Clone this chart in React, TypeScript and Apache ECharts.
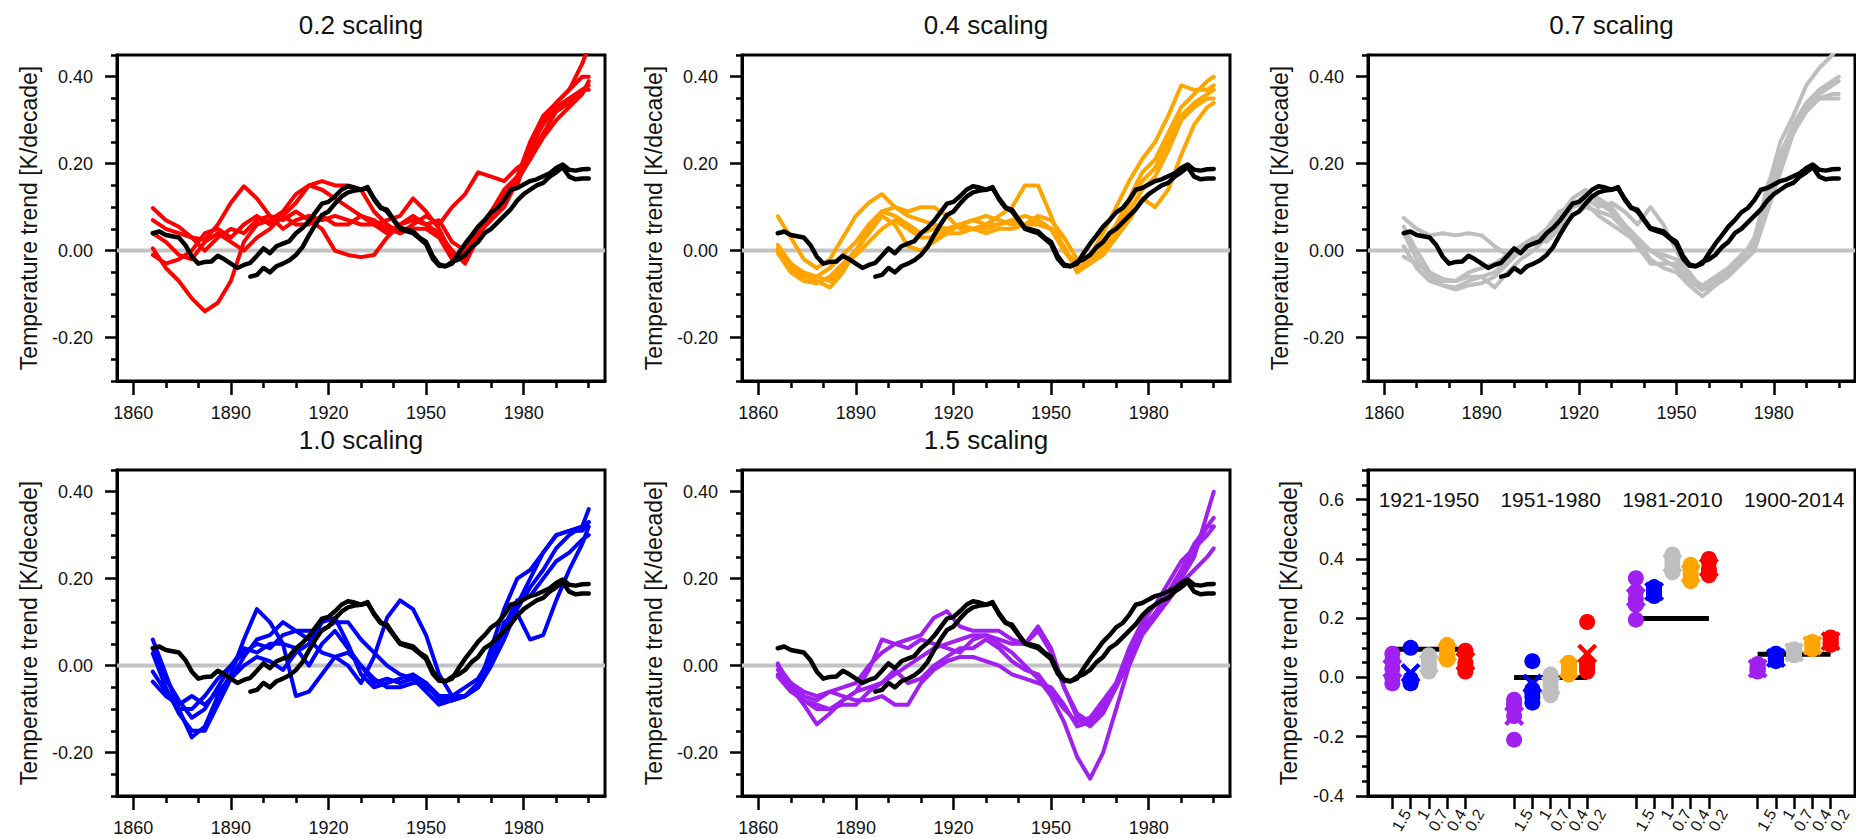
import React, { useEffect, useRef } from "react";
import * as echarts from "echarts";

// ---------- time axis of the running trends ----------
const memberYears = [1866, 1870, 1874, 1878, 1882, 1886, 1890, 1894, 1898, 1902, 1906, 1910, 1914, 1918, 1922, 1926, 1930, 1934, 1938, 1942, 1946, 1950, 1954, 1958, 1962, 1966, 1970, 1974, 1978, 1982, 1986, 1990, 1994, 1998, 2000];

// ---------- observations (black) ----------
const obsYearsA = [1866, 1868, 1870, 1872, 1874, 1876, 1878, 1880, 1882, 1884, 1886, 1888, 1890, 1892, 1894, 1896, 1898, 1900, 1902, 1904, 1906, 1908, 1910, 1912, 1914, 1916, 1918, 1920, 1922, 1924, 1926, 1928, 1930, 1932, 1934, 1936, 1938, 1940, 1942, 1944, 1946, 1948, 1950, 1952, 1954, 1956, 1958, 1960, 1962, 1964, 1966, 1968, 1970, 1972, 1974, 1976, 1978, 1980, 1982, 1984, 1986, 1988, 1990, 1992, 1994, 1996, 1998, 2000];
const obsA = [0.040, 0.044, 0.036, 0.033, 0.030, 0.013, -0.014, -0.030, -0.026, -0.025,
  -0.012, -0.020, -0.030, -0.040, -0.033, -0.028, -0.012, 0.005, -0.006, 0.010,
  0.016, 0.022, 0.040, 0.052, 0.068, 0.088, 0.108, 0.112, 0.125, 0.140,
  0.148, 0.145, 0.140, 0.146, 0.118, 0.098, 0.094, 0.072, 0.052, 0.048,
  0.044, 0.030, 0.020, -0.012, -0.032, -0.036, -0.030, -0.006, 0.016, 0.035,
  0.055, 0.070, 0.088, 0.098, 0.116, 0.140, 0.144, 0.152, 0.160, 0.164,
  0.171, 0.178, 0.190, 0.198, 0.186, 0.184, 0.187, 0.188];
const obsYearsB = [1896, 1898, 1900, 1902, 1904, 1906, 1908, 1910, 1912, 1914, 1916, 1918, 1920, 1922, 1924, 1926, 1928, 1930, 1932, 1934, 1936, 1938, 1940, 1942, 1944, 1946, 1948, 1950, 1952, 1954, 1956, 1958, 1960, 1962, 1964, 1966, 1968, 1970, 1972, 1974, 1976, 1978, 1980, 1982, 1984, 1986, 1988, 1990, 1992, 1994, 1996, 1998, 2000];
const obsB = [-0.060, -0.056, -0.040, -0.050, -0.036, -0.030, -0.022, -0.010, 0.008, 0.035,
  0.060, 0.082, 0.090, 0.108, 0.124, 0.134, 0.138, 0.140, 0.144, 0.120,
  0.100, 0.090, 0.070, 0.050, 0.045, 0.040, 0.028, 0.015, -0.018, -0.035,
  -0.036, -0.026, -0.020, -0.010, 0.008, 0.020, 0.040, 0.050, 0.065, 0.080,
  0.095, 0.115, 0.130, 0.140, 0.150, 0.156, 0.170, 0.180, 0.192, 0.170,
  0.164, 0.166, 0.166];

// ---------- 0.2 scaling (red) ----------
const red1 = [0.005, -0.04, -0.07, -0.11, -0.14, -0.12, -0.07, 0.02, 0.06, 0.07, 0.09, 0.13, 0.15, 0.16, 0.15, 0.15, 0.14, 0.09, 0.06, 0.04, 0.05, 0.05, 0.03, -0.02, 0.0, 0.05, 0.09, 0.13, 0.17, 0.25, 0.31, 0.34, 0.37, 0.40, 0.40];
const red2 = [0.07, 0.05, 0.04, 0.03, 0.025, 0.06, 0.11, 0.148, 0.12, 0.08, 0.05, 0.07, 0.08, 0.07, 0.08, 0.07, 0.06, 0.06, 0.07, 0.08, 0.12, 0.09, 0.05, -0.01, -0.02, 0.04, 0.09, 0.14, 0.17, 0.22, 0.30, 0.34, 0.37, 0.43, 0.47];
const red3 = [0.098, 0.07, 0.055, 0.03, 0.0, 0.03, 0.05, 0.04, 0.07, 0.08, 0.07, 0.09, 0.07, 0.05, 0.0, -0.01, -0.015, -0.01, 0.03, 0.06, 0.07, 0.06, 0.04, 0.0, -0.03, 0.03, 0.08, 0.12, 0.15, 0.24, 0.29, 0.33, 0.35, 0.37, 0.38];
const red4 = [0.04, 0.02, -0.01, -0.02, 0.02, 0.04, 0.02, 0.0, 0.03, 0.05, 0.08, 0.11, 0.15, 0.14, 0.12, 0.10, 0.08, 0.07, 0.05, 0.04, 0.06, 0.08, 0.06, 0.10, 0.13, 0.18, 0.17, 0.16, 0.19, 0.21, 0.27, 0.32, 0.34, 0.37, 0.37];
const red5 = [-0.01, -0.03, -0.02, 0.0, 0.04, 0.05, 0.03, 0.06, 0.08, 0.06, 0.08, 0.06, 0.06, 0.08, 0.06, 0.06, 0.08, 0.06, 0.04, 0.06, 0.08, 0.06, 0.07, 0.02, 0.0, 0.04, 0.07, 0.10, 0.16, 0.21, 0.26, 0.30, 0.33, 0.36, 0.39];

// ---------- 0.4 scaling (orange) ----------
const orange1 = [0.079, 0.03, -0.02, -0.04, -0.02, 0.03, 0.08, 0.11, 0.13, 0.10, 0.08, 0.07, 0.06, 0.05, 0.06, 0.07, 0.08, 0.07, 0.06, 0.06, 0.07, 0.05, 0.0, -0.03, -0.01, 0.04, 0.10, 0.16, 0.21, 0.25, 0.31, 0.38, 0.37, 0.37, 0.38];
const orange2 = [0.013, -0.03, -0.06, -0.07, -0.085, -0.05, 0.0, 0.05, 0.09, 0.08, 0.06, 0.04, 0.05, 0.04, 0.04, 0.05, 0.06, 0.08, 0.10, 0.15, 0.15, 0.08, 0.0, -0.04, -0.03, 0.02, 0.06, 0.12, 0.18, 0.21, 0.27, 0.33, 0.36, 0.39, 0.40];
const orange3 = [0.005, -0.04, -0.06, -0.06, -0.04, -0.01, 0.02, 0.06, 0.09, 0.10, 0.09, 0.10, 0.10, 0.08, 0.05, 0.05, 0.05, 0.06, 0.07, 0.06, 0.06, 0.05, 0.0, -0.04, -0.02, 0.01, 0.05, 0.11, 0.16, 0.19, 0.25, 0.31, 0.34, 0.36, 0.37];
const orange4 = [-0.006, -0.05, -0.07, -0.075, -0.06, -0.03, 0.0, 0.04, 0.08, 0.06, 0.01, 0.0, 0.02, 0.04, 0.06, 0.07, 0.06, 0.06, 0.07, 0.08, 0.07, 0.05, 0.01, -0.05, -0.03, 0.0, 0.04, 0.09, 0.14, 0.17, 0.23, 0.30, 0.33, 0.35, 0.35];
const orange5 = [0.0, -0.03, -0.05, -0.06, -0.07, -0.04, -0.01, 0.02, 0.05, 0.07, 0.05, 0.03, 0.03, 0.05, 0.06, 0.05, 0.04, 0.05, 0.05, 0.06, 0.08, 0.07, 0.03, -0.02, -0.03, -0.01, 0.03, 0.07, 0.12, 0.10, 0.14, 0.22, 0.29, 0.33, 0.34];

// ---------- 0.7 scaling (gray) ----------
const gray1 = [0.075, 0.05, 0.035, 0.04, 0.035, 0.04, 0.035, 0.01, -0.01, 0.0, 0.02, 0.04, 0.08, 0.12, 0.14, 0.11, 0.09, 0.06, 0.03, 0.0, -0.02, -0.04, -0.07, -0.08, -0.06, -0.04, -0.02, 0.03, 0.14, 0.25, 0.31, 0.38, 0.42, 0.45, 0.47];
const gray2 = [0.04, -0.02, -0.06, -0.08, -0.085, -0.07, -0.06, -0.085, -0.05, -0.02, 0.0, 0.03, 0.08, 0.11, 0.12, 0.10, 0.11, 0.09, 0.06, 0.10, 0.06, 0.0, -0.06, -0.08, -0.07, -0.05, -0.02, 0.02, 0.15, 0.22, 0.28, 0.33, 0.35, 0.36, 0.36];
const gray3 = [0.01, -0.04, -0.07, -0.08, -0.09, -0.08, -0.075, -0.06, -0.03, 0.0, 0.02, 0.03, 0.06, 0.10, 0.13, 0.12, 0.10, 0.06, 0.02, -0.02, -0.04, -0.05, -0.08, -0.105, -0.08, -0.05, -0.03, 0.0, 0.10, 0.20, 0.27, 0.33, 0.36, 0.38, 0.39];
const gray4 = [-0.014, -0.03, -0.05, -0.065, -0.07, -0.06, -0.06, -0.05, -0.02, 0.01, 0.03, 0.02, 0.05, 0.08, 0.10, 0.09, 0.08, 0.05, 0.01, -0.03, -0.03, -0.03, -0.07, -0.09, -0.07, -0.04, -0.01, 0.01, 0.12, 0.22, 0.29, 0.34, 0.37, 0.39, 0.40];
const gray5 = [0.055, 0.0, -0.05, -0.07, -0.07, -0.05, -0.04, -0.03, -0.01, 0.01, 0.025, 0.05, 0.09, 0.10, 0.11, 0.08, 0.06, 0.04, 0.02, 0.0, -0.01, -0.02, -0.05, -0.09, -0.08, -0.06, -0.03, 0.0, 0.09, 0.18, 0.27, 0.32, 0.35, 0.35, 0.35];

// ---------- 1.0 scaling (blue) ----------
const blue1 = [0.06, -0.02, -0.10, -0.165, -0.14, -0.07, -0.02, 0.06, 0.13, 0.10, 0.05, -0.07, -0.06, -0.02, 0.02, 0.03, 0.0, -0.04, -0.03, -0.04, -0.03, -0.05, -0.07, -0.07, -0.05, -0.03, 0.02, 0.08, 0.14, 0.20, 0.26, 0.30, 0.31, 0.31, 0.33];
const blue2 = [0.04, -0.03, -0.08, -0.12, -0.10, -0.05, 0.0, 0.03, 0.05, 0.04, 0.07, 0.08, 0.06, 0.03, 0.02, 0.0, -0.04, 0.02, 0.11, 0.15, 0.13, 0.07, -0.02, -0.07, -0.07, -0.05, 0.04, 0.13, 0.20, 0.22, 0.26, 0.30, 0.31, 0.32, 0.36];
const blue3 = [0.028, -0.05, -0.11, -0.15, -0.15, -0.09, -0.03, 0.02, 0.06, 0.07, 0.10, 0.08, 0.08, 0.08, 0.10, 0.10, 0.06, 0.03, 0.0, -0.02, -0.03, -0.06, -0.09, -0.08, -0.07, -0.05, 0.0, 0.06, 0.13, 0.18, 0.22, 0.27, 0.30, 0.32, 0.33];
const blue4 = [-0.014, -0.06, -0.10, -0.10, -0.07, -0.03, 0.0, 0.04, 0.03, 0.05, 0.05, 0.04, 0.0, 0.05, 0.08, 0.04, 0.0, -0.03, -0.05, -0.05, -0.04, -0.04, -0.08, -0.08, -0.07, -0.05, 0.0, 0.10, 0.12, 0.06, 0.07, 0.15, 0.22, 0.28, 0.32];
const blue5 = [-0.037, -0.07, -0.09, -0.07, -0.09, -0.06, -0.03, 0.0, 0.02, 0.01, -0.01, 0.03, 0.05, 0.10, 0.11, 0.05, -0.02, -0.05, -0.04, -0.03, -0.02, -0.04, -0.07, -0.08, -0.07, -0.04, 0.02, 0.09, 0.15, 0.16, 0.20, 0.24, 0.26, 0.29, 0.30];

// ---------- 1.5 scaling (purple) ----------
const purple1 = [-0.02, -0.05, -0.08, -0.10, -0.10, -0.08, -0.06, -0.05, -0.04, -0.02, 0.0, 0.02, 0.04, 0.05, 0.06, 0.07, 0.07, 0.05, 0.03, 0.0, -0.03, -0.07, -0.13, -0.21, -0.26, -0.20, -0.10, 0.0, 0.07, 0.11, 0.15, 0.20, 0.25, 0.35, 0.40];
const purple2 = [0.0, -0.04, -0.07, -0.08, -0.06, -0.05, -0.04, 0.0, 0.03, 0.05, 0.06, 0.07, 0.11, 0.125, 0.09, 0.08, 0.08, 0.08, 0.06, 0.05, 0.09, 0.04, -0.05, -0.11, -0.13, -0.10, -0.05, 0.02, 0.08, 0.12, 0.16, 0.21, 0.26, 0.32, 0.34];
const purple3 = [0.005, -0.05, -0.09, -0.135, -0.11, -0.08, -0.06, -0.01, 0.06, 0.05, 0.04, 0.06, 0.05, 0.04, 0.03, 0.06, 0.07, 0.06, 0.05, 0.05, 0.08, 0.03, -0.05, -0.12, -0.14, -0.11, -0.05, 0.01, 0.08, 0.12, 0.17, 0.22, 0.28, 0.32, 0.32];
const purple4 = [-0.01, -0.04, -0.06, -0.07, -0.06, -0.07, -0.08, -0.08, -0.07, -0.09, -0.09, -0.04, -0.01, 0.01, 0.02, 0.02, 0.01, 0.0, -0.02, -0.03, -0.04, -0.05, -0.09, -0.14, -0.13, -0.09, -0.04, 0.03, 0.09, 0.12, 0.15, 0.19, 0.22, 0.25, 0.27];
const purple5 = [-0.025, -0.06, -0.08, -0.09, -0.10, -0.09, -0.09, -0.06, -0.04, -0.01, -0.04, -0.03, 0.0, 0.02, 0.04, 0.04, 0.06, 0.04, 0.01, -0.01, -0.02, -0.06, -0.10, -0.13, -0.12, -0.08, -0.04, 0.04, 0.10, 0.14, 0.19, 0.24, 0.27, 0.30, 0.32];

// ---------- period trends (bottom-right panel) ----------
const periods = ["1921-1950", "1951-1980", "1981-2010", "1900-2014"];
const scalingLabels = ["1.5", "1", "0.7", "0.4", "0.2"];
// members per period, for each scaling
const trend15 = [[0.08, 0.055, 0.03, 0.0, -0.02], [-0.075, -0.09, -0.10, -0.13, -0.21], [0.335, 0.29, 0.265, 0.245, 0.195], [0.045, 0.035, 0.03, 0.025, 0.02]];
const trend10 = [[0.10, -0.005, -0.01, -0.015, -0.02], [0.055, -0.04, -0.05, -0.065, -0.085], [0.305, 0.295, 0.29, 0.285, 0.275], [0.08, 0.07, 0.065, 0.06, 0.055]];
const trend07 = [[0.075, 0.06, 0.045, 0.03, 0.02], [0.01, -0.01, -0.03, -0.045, -0.06], [0.415, 0.40, 0.385, 0.37, 0.355], [0.095, 0.09, 0.085, 0.08, 0.075]];
const trend04 = [[0.11, 0.095, 0.085, 0.075, 0.06], [0.05, 0.04, 0.03, 0.02, 0.01], [0.38, 0.365, 0.35, 0.335, 0.325], [0.12, 0.115, 0.11, 0.10, 0.095]];
const trend02 = [[0.09, 0.08, 0.05, 0.035, 0.02], [0.187, 0.05, 0.04, 0.03, 0.02], [0.40, 0.39, 0.365, 0.355, 0.345], [0.135, 0.13, 0.12, 0.115, 0.11]];
// ensemble means (X markers)
const mean15 = [0.03, -0.13, 0.27, 0.03];
const mean10 = [0.015, -0.02, 0.29, 0.066];
const mean07 = [0.046, -0.027, 0.385, 0.085];
const mean04 = [0.085, 0.03, 0.351, 0.108];
const mean02 = [0.055, 0.08, 0.371, 0.122];
const obsTrend = [0.095, 0.0, 0.199, 0.078];

// ---------- ticks ----------
const lineXMajor = [1860, 1890, 1920, 1950, 1980];
const lineXMinor = [1870, 1880, 1900, 1910, 1930, 1940, 1960, 1970, 1990, 2000];
const lineYMajor = [-0.2, 0, 0.2, 0.4];
const lineYMinor = [-0.3, -0.25, -0.15, -0.1, -0.05, 0.05, 0.1, 0.15, 0.25, 0.3, 0.35, 0.45];
const trendYMajor = [-0.4, -0.2, 0, 0.2, 0.4, 0.6];
const trendYMinor = [-0.35, -0.3, -0.25, -0.15, -0.1, -0.05, 0.05, 0.1, 0.15, 0.25, 0.3, 0.35, 0.45, 0.5, 0.55, 0.65, 0.7];

// ---------- layout / style ----------
const FONT = "'Liberation Sans', Arial, Helvetica, sans-serif";
const TXT = "#111";
const Y_NAME = "Temperature trend [K/decade]";
const X_MIN = 1855, X_MAX = 2005, Y_MIN = -0.3, Y_MAX = 0.45;
const T_YMIN = -0.4, T_YMAX = 0.7, T_XMIN = -0.5, T_XMAX = 3.5;
const periodOffsets = [-0.3, -0.15, 0, 0.15, 0.3];
const PERIOD_LABEL_Y = 0.6;
const boxes = [
  { left: 117, top: 55, width: 488, height: 326 },
  { left: 742, top: 55, width: 488, height: 326 },
  { left: 1368, top: 55, width: 487, height: 326 },
  { left: 117, top: 470, width: 488, height: 326 },
  { left: 742, top: 470, width: 488, height: 326 },
  { left: 1368, top: 470, width: 487, height: 326 },
];
const X_SYMBOL = "path://M15,0L50,35L85,0L100,15L65,50L100,85L85,100L50,65L15,100L0,85L35,50L0,15Z";

const linePanels = [
  { title: "0.2 scaling", color: "#ff0000", members: [red1, red2, red3, red4, red5] },
  { title: "0.4 scaling", color: "#ffa500", members: [orange1, orange2, orange3, orange4, orange5] },
  { title: "0.7 scaling", color: "#bebebe", members: [gray1, gray2, gray3, gray4, gray5] },
  { title: "1.0 scaling", color: "#0000ff", members: [blue1, blue2, blue3, blue4, blue5] },
  { title: "1.5 scaling", color: "#a020f0", members: [purple1, purple2, purple3, purple4, purple5] },
];
const trendSets = [
  { color: "#a020f0", members: trend15, mean: mean15 },
  { color: "#0000ff", members: trend10, mean: mean10 },
  { color: "#bebebe", members: trend07, mean: mean07 },
  { color: "#ffa500", members: trend04, mean: mean04 },
  { color: "#ff0000", members: trend02, mean: mean02 },
];

const zip = (xs: number[], ys: number[]) => xs.map((x, i) => [x, ys[i]]);
const axisLineStyle = { color: "#000", width: 3 };
const tickStyle = { color: "#000", width: 2.5 };
const labelBase = { color: TXT, fontFamily: FONT };

function buildOption() {
  const grid: any[] = [];
  const xAxis: any[] = [];
  const yAxis: any[] = [];
  const series: any[] = [];
  const graphic: any[] = [];

  boxes.forEach((b) => {
    grid.push({ ...b, show: true, borderColor: "#000", borderWidth: 3, containLabel: false, outerBoundsMode: "none" });
  });

  linePanels.forEach((p, i) => {
    const b = boxes[i];
    xAxis.push({
      gridIndex: i, type: "value", position: "bottom", min: X_MIN, max: X_MAX,
      axisLine: { show: true, onZero: false, lineStyle: axisLineStyle },
      axisTick: { show: true, inside: false, length: 14, customValues: lineXMajor, lineStyle: tickStyle },
      axisLabel: { show: true, customValues: lineXMajor, margin: 23, fontSize: 18, ...labelBase, formatter: (v: number) => String(v) },
      splitLine: { show: false },
    });
    xAxis.push({
      gridIndex: i, type: "value", position: "bottom", min: X_MIN, max: X_MAX,
      axisLine: { show: false, onZero: false },
      axisTick: { show: true, inside: false, length: 7, customValues: lineXMinor, lineStyle: tickStyle },
      axisLabel: { show: false },
      splitLine: { show: false },
    });
    yAxis.push({
      gridIndex: i, type: "value", position: "left", min: Y_MIN, max: Y_MAX,
      axisLine: { show: true, onZero: false, lineStyle: axisLineStyle },
      axisTick: { show: true, inside: false, length: 12, customValues: lineYMajor, lineStyle: tickStyle },
      axisLabel: { show: true, customValues: lineYMajor, margin: 24, fontSize: 18, ...labelBase, formatter: (v: number) => v.toFixed(2) },
      splitLine: { show: false },
      name: Y_NAME, nameLocation: "middle", nameRotate: 90, nameGap: 77,
      nameTextStyle: { fontSize: 23, ...labelBase },
    });
    yAxis.push({
      gridIndex: i, type: "value", position: "left", min: Y_MIN, max: Y_MAX,
      axisLine: { show: false, onZero: false },
      axisTick: { show: true, inside: false, length: 6, customValues: lineYMinor, lineStyle: tickStyle },
      axisLabel: { show: false },
      splitLine: { show: false },
    });
    const xi = i * 2, yi = i * 2;
    series.push({
      type: "line", xAxisIndex: xi, yAxisIndex: yi, silent: true, symbol: "none", z: 1,
      data: [[X_MIN, 0], [X_MAX, 0]], lineStyle: { color: "#c3c3c3", width: 4 },
    });
    p.members.forEach((m) => {
      series.push({
        type: "line", xAxisIndex: xi, yAxisIndex: yi, silent: true, symbol: "none", z: 2,
        data: zip(memberYears, m), lineStyle: { color: p.color, width: 4, join: "round", cap: "round" },
      });
    });
    [zip(obsYearsA, obsA), zip(obsYearsB, obsB)].forEach((d) => {
      series.push({
        type: "line", xAxisIndex: xi, yAxisIndex: yi, silent: true, symbol: "none", z: 3,
        data: d, lineStyle: { color: "#000", width: 4.5, join: "round", cap: "round" },
      });
    });
    graphic.push({
      type: "text", x: b.left + b.width / 2, y: b.top - 30, silent: true,
      style: { text: p.title, fontSize: 26, fontFamily: FONT, fill: TXT, align: "center", verticalAlign: "middle" },
    });
  });

  // ---- bottom-right period-trend panel ----
  const gi = 5;
  const trendTicks = periods.flatMap((_, pi) => periodOffsets.map((o) => +(pi + o).toFixed(2)));
  const tickLabel = (v: number) => {
    const k = Math.round((v - Math.round(v)) / 0.15) + 2;
    return scalingLabels[k] ?? "";
  };
  xAxis.push({
    gridIndex: gi, type: "value", position: "bottom", min: T_XMIN, max: T_XMAX,
    axisLine: { show: true, onZero: false, lineStyle: axisLineStyle },
    axisTick: { show: true, inside: false, length: 13, customValues: trendTicks, lineStyle: tickStyle },
    axisLabel: {
      show: true, customValues: trendTicks, formatter: tickLabel, rotate: 60, margin: 6,
      fontSize: 16, ...labelBase, align: "right", verticalAlign: "top", padding: [9, 0, 0, 0],
      showMinLabel: true, showMaxLabel: true, hideOverlap: false,
    },
    splitLine: { show: false },
  });
  xAxis.push({ gridIndex: gi, type: "value", position: "bottom", min: T_XMIN, max: T_XMAX, show: false });
  yAxis.push({
    gridIndex: gi, type: "value", position: "left", min: T_YMIN, max: T_YMAX,
    axisLine: { show: true, onZero: false, lineStyle: axisLineStyle },
    axisTick: { show: true, inside: false, length: 12, customValues: trendYMajor, lineStyle: tickStyle },
    axisLabel: { show: true, customValues: trendYMajor, margin: 24, fontSize: 18, ...labelBase, formatter: (v: number) => v.toFixed(1) },
    splitLine: { show: false },
    name: Y_NAME, nameLocation: "middle", nameRotate: 90, nameGap: 68,
    nameTextStyle: { fontSize: 23, ...labelBase },
  });
  yAxis.push({
    gridIndex: gi, type: "value", position: "left", min: T_YMIN, max: T_YMAX,
    axisLine: { show: false, onZero: false },
    axisTick: { show: true, inside: false, length: 6, customValues: trendYMinor, lineStyle: tickStyle },
    axisLabel: { show: false },
    splitLine: { show: false },
  });
  const txi = gi * 2, tyi = gi * 2;
  obsTrend.forEach((v, pi) => {
    series.push({
      type: "line", xAxisIndex: txi, yAxisIndex: tyi, silent: true, symbol: "none", z: 2,
      data: [[pi + periodOffsets[0], v], [pi + periodOffsets[4], v]],
      lineStyle: { color: "#000", width: 5 },
    });
  });
  trendSets.forEach((s, si) => {
    const dx = periodOffsets[si];
    series.push({
      type: "scatter", xAxisIndex: txi, yAxisIndex: tyi, silent: true, z: 4,
      symbol: "circle", symbolSize: 16, itemStyle: { color: s.color, opacity: 1 },
      data: s.members.flatMap((vals, pi) => vals.map((v) => [pi + dx, v])),
    });
    series.push({
      type: "scatter", xAxisIndex: txi, yAxisIndex: tyi, silent: true, z: 5,
      symbol: X_SYMBOL, symbolSize: 20, itemStyle: { color: s.color, opacity: 1 },
      data: s.mean.map((v, pi) => [pi + dx, v]),
    });
  });
  series.push({
    type: "scatter", xAxisIndex: txi, yAxisIndex: tyi, silent: true, z: 6,
    symbolSize: 1, itemStyle: { color: "#ffffff", opacity: 1 },
    data: periods.map((_, pi) => [pi, PERIOD_LABEL_Y]),
    label: {
      show: true, position: "inside", fontSize: 21, color: TXT, fontFamily: FONT,
      textBorderWidth: 0, textBorderColor: "transparent", opacity: 1,
      formatter: (p: any) => periods[p.dataIndex],
    },
  });

  return {
    animation: false,
    backgroundColor: "#ffffff",
    textStyle: { fontFamily: FONT },
    grid, xAxis, yAxis, series, graphic,
  };
}

export default function App() {
  const ref = useRef<HTMLDivElement>(null);
  useEffect(() => {
    document.body.style.margin = "0";
    const chart = echarts.init(ref.current as HTMLDivElement, null, { renderer: "svg" });
    chart.setOption(buildOption() as any);
    return () => chart.dispose();
  }, []);
  return <div ref={ref} style={{ width: 1856, height: 838 }} />;
}
